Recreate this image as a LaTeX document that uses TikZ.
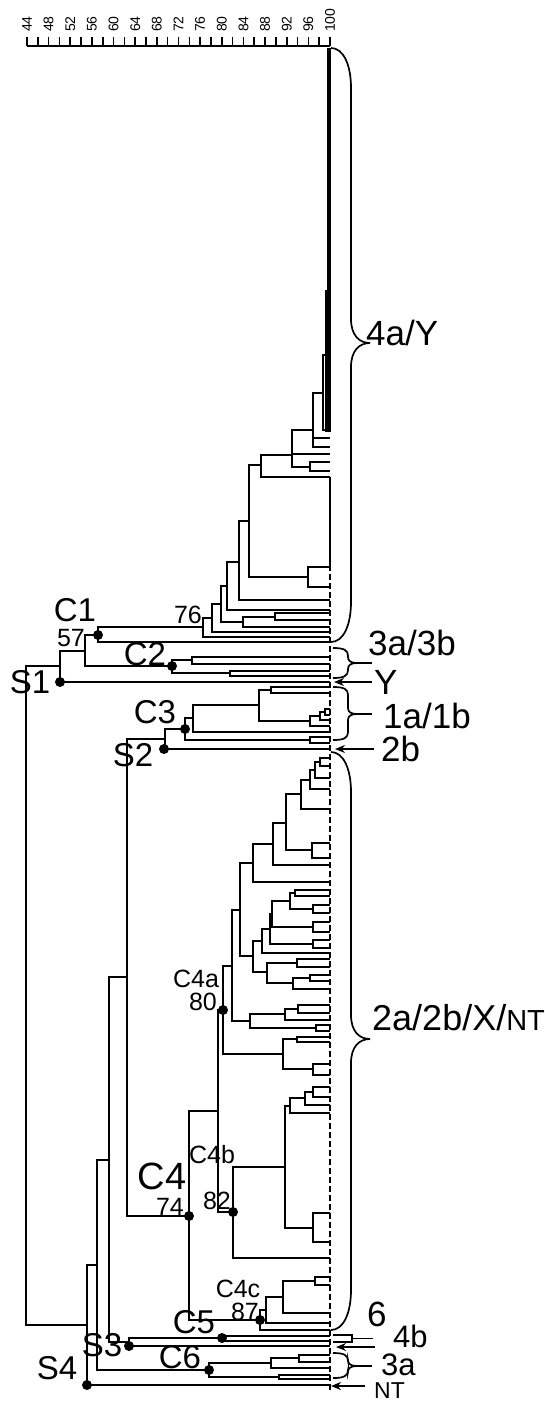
\documentclass[tikz,border=0pt]{standalone}
\usepackage{fontspec}
\setmainfont{Liberation Sans}
\usetikzlibrary{arrows.meta}
\tikzset{
  dl/.style  ={line width=1.9pt},
  thn/.style ={line width=1.2pt},
  idl/.style ={line width=1.9pt, dash pattern=on 6pt off 3pt},
  hub/.style ={circle, fill=black, inner sep=0pt, minimum size=10pt},
  blbl/.style={font=\fontsize{33}{33}\selectfont, inner sep=0pt},
  clbl/.style={font=\fontsize{38}{38}\selectfont, inner sep=0pt},
  slbl/.style={font=\fontsize{25}{25}\selectfont, inner sep=0pt},
  rlbl/.style={font=\fontsize{35}{35}\selectfont, inner sep=0pt, anchor=west},
  tck/.style ={font=\fontsize{14}{14}\selectfont, rotate=90, anchor=west, inner sep=0pt},
  arr/.style ={-{Stealth[length=10pt,width=8pt]}, line width=1.6pt},
  brc/.style ={line width=1.7pt},
}
\newcommand{\clade}[6][dl]{\draw[#1] (#4,#3) -| (#2,#5) -- (#6,#5);}
\newcommand{\bigbrc}[3]{\draw[brc] (331,#1) .. controls (343,#1) and (351,{#1+16}) .. (351,{#1+40})
  -- (351,{#2-24}) .. controls (351,{#2-8}) and (359,#2) .. (370,#2)
  .. controls (359,#2) and (351,{#2+8}) .. (351,{#2+24})
  -- (351,{#3-40}) .. controls (351,{#3-16}) and (343,#3) .. (331,#3);}
\newcommand{\smbrc}[3]{\draw[brc] (333,#1) .. controls (344,#1) and (348,{#1+2}) .. (348,{#1+8})
  -- (348,{#2-6}) .. controls (348,{#2-2}) and (351,#2) .. (357,#2)
  .. controls (351,#2) and (348,{#2+2}) .. (348,{#2+6})
  -- (348,{#3-8}) .. controls (348,{#3-2}) and (344,#3) .. (333,#3);
  \draw[brc] (357,#2) -- (372,#2);}

\begin{document}
\begin{tikzpicture}[x=1pt,y=-1pt]
  \useasboundingbox (0,0) rectangle (545,1403);
  \draw[line width=2.2pt] (27,46) -- (330,46);
  \foreach \i in {0,...,28} \draw[line width=1.6pt] ({27+\i*10.821},46) -- ++(0,-9);
  \foreach \v [count=\i from 0] in {44,48,...,100} \node[tck] at ({27+\i*21.643},32) {\v};
  \fill (326.5,48) rectangle (331,290);
  \fill (325,290) rectangle (331,432);
  \draw[line width=2.8pt] (330,477) -- (330,565);
  \draw[idl] (330,565) -- (330,1392);
  \clade{323}{355}{327}{430}{330}
  \clade{313}{393}{323}{447}{330}
  \draw[dl] (313,438) -- (330,438);
  \clade{292}{430}{313}{467}{310}
  \draw[dl] (292,454) -- (330,454);
  \clade{310}{462}{330}{471}{330}
  \clade{261}{455}{292}{477}{330}
  \clade{308}{567}{330}{587}{330}
  \clade{249}{465}{261}{577}{308}
  \clade{239}{521}{249}{600}{330}
  \clade{227}{562}{239}{610}{330}
  \clade{275}{613}{330}{620}{330}
  \clade{243}{617}{275}{627}{330}
  \clade{221}{586}{227}{622}{243}
  \clade{212}{604}{221}{632}{330}
  \clade{203}{618}{212}{637}{330}
  \clade{98}{627}{203}{642}{330}
  \clade{192}{657}{330}{664}{330}
  \clade{230}{671}{330}{676}{330}
  \clade{172}{660}{192}{673}{230}
  \clade[thn]{85}{635}{98}{666}{172}
  \clade[thn]{60}{651}{85}{682}{330}
  \clade[thn]{26}{666}{60}{1325}{87}
  \clade{271}{687}{330}{693}{330}
  \clade{325}{709}{330}{715}{330}
  \clade{320}{712}{325}{720}{330}
  \clade{310}{716}{320}{726}{330}
  \clade{259}{690}{271}{721}{310}
  \clade{193}{705}{259}{732}{330}
  \clade{310}{737}{330}{743}{330}
  \clade{185}{718}{193}{740}{310}
  \clade[thn]{165}{729}{185}{749}{330}
  \clade[thn]{127}{739}{165}{1216}{189}
  \clade[thn]{109}{977}{127}{1342}{129}
  \clade[thn]{129}{1338}{222}{1346}{330}
  \clade{222}{1336}{330}{1341}{330}
  \clade[thn]{97}{1160}{109}{1370}{209}
  \clade[thn]{87}{1265}{97}{1385}{330}
  \clade{299}{1355}{330}{1362}{330}
  \clade{271}{1358}{299}{1368}{330}
  \clade{279}{1375}{330}{1379}{330}
  \clade{209}{1363}{271}{1377}{279}
  \clade{320}{758}{330}{766}{330}
  \clade{315}{762}{320}{778}{330}
  \clade{310}{770}{315}{789}{330}
  \clade{301}{780}{310}{809}{330}
  \clade{312}{843}{330}{858}{330}
  \clade{286}{794}{301}{850}{312}
  \clade{273}{823}{286}{865}{330}
  \clade{253}{844}{273}{882}{330}
  \clade{295}{890}{330}{896}{330}
  \clade{313}{905}{330}{913}{330}
  \clade{290}{893}{295}{909}{313}
  \clade{313}{922}{330}{932}{330}
  \clade{272}{901}{290}{927}{313}
  \clade{313}{940}{330}{948}{330}
  \clade{270}{914}{272}{944}{313}
  \clade{262}{929}{270}{953}{330}
  \clade{297}{959}{330}{967}{330}
  \clade{310}{975}{330}{981}{330}
  \clade{293}{978}{310}{989}{330}
  \clade{267}{963}{297}{983}{293}
  \clade{253}{941}{262}{972}{267}
  \clade{240}{863}{253}{956}{253}
  \clade{298}{1005}{330}{1013}{330}
  \clade{285}{1009}{298}{1020}{330}
  \clade{316}{1025}{330}{1031}{330}
  \clade{250}{1014}{285}{1028}{316}
  \clade{232}{910}{240}{1021}{250}
  \clade{297}{1037}{330}{1042}{330}
  \clade{313}{1064}{330}{1075}{330}
  \clade{283}{1039}{297}{1069}{313}
  \clade{223}{966}{232}{1054}{283}
  \clade{313}{1087}{330}{1097}{330}
  \clade{305}{1092}{313}{1105}{330}
  \clade{290}{1098}{305}{1113}{330}
  \clade{313}{1213}{330}{1242}{330}
  \clade{285}{1106}{290}{1228}{313}
  \clade{233}{1167}{285}{1258}{330}
  \clade{218}{1010}{223}{1212}{233}
  \clade{315}{1277}{330}{1285}{330}
  \clade{283}{1281}{315}{1313}{330}
  \clade{266}{1297}{283}{1323}{330}
  \clade{260}{1310}{266}{1330}{330}
  \clade{189}{1111}{218}{1320}{260}
  \node[hub] (dC1) at (98,635) {};
  \node[hub] (dC2) at (172,666) {};
  \node[hub] (dS1) at (60,682) {};
  \node[hub] (dC3) at (185,729) {};
  \node[hub] (dS2) at (164,749) {};
  \node[hub] (dC4a) at (223,1010) {};
  \node[hub] (dC4) at (189,1216) {};
  \node[hub] (dC4b) at (233,1212) {};
  \node[hub] (dC4c) at (260,1320) {};
  \node[hub] (dC5) at (222,1338) {};
  \node[hub] (dS3) at (129,1346) {};
  \node[hub] (dC6) at (209,1370) {};
  \node[hub] (dS4) at (87,1385) {};
  \node[blbl] (lC1) at (75,610) {C1};
  \node[slbl] (l57) at (71,638) {57};
  \node[slbl] (l76) at (188,615) {76};
  \node[blbl] (lC2) at (145,654) {C2};
  \node[blbl] (lS1) at (30,682) {S1};
  \node[blbl] (lC3) at (155,712) {C3};
  \node[blbl] (lS2) at (133,755) {S2};
  \node[slbl] (lC4a) at (196,979) {C4a};
  \node[slbl] (l80) at (203,1002) {80};
  \node[clbl] (lC4) at (162,1176) {C4};
  \node[slbl] (l74) at (170,1207) {74};
  \node[slbl] (lC4b) at (212,1155) {C4b};
  \node[slbl] (l82) at (217,1201) {82};
  \node[slbl] (lC4c) at (238,1289) {C4c};
  \node[slbl] (l87) at (245,1312) {87};
  \node[blbl] (lC5) at (194,1322) {C5};
  \node[blbl] (lS3) at (102,1345) {S3};
  \node[blbl] (lC6) at (180,1357) {C6};
  \node[blbl] (lS4) at (57,1368) {S4};
  \bigbrc{48}{343}{642}
  \bigbrc{752}{1039}{1330}
  \smbrc{648}{663}{678}
  \smbrc{687}{714}{740}
  \smbrc{1353}{1366}{1378}
  \draw[brc] (333,1335) -- (352,1335) -- (352,1342) -- (333,1342);
  \draw[brc] (352,1338.5) -- (373,1338.5);
  \node[rlbl] (l4aY) at (366,333) {4a/Y};
  \node[rlbl] (l3a3b) at (368,643) {3a/3b};
  \node[rlbl] (lY) at (374,682) {Y};
  \node[rlbl] (l1a1b) at (383,716) {1a/1b};
  \node[rlbl] (l2b) at (381,749) {2b};
  \node[rlbl, font=\fontsize{36}{36}\selectfont] (l2a) at (372,1018) {2a/2b/X/{\fontsize{29}{29}\selectfont NT}};
  \node[rlbl] (l6) at (367,1314) {6};
  \node[rlbl, font=\fontsize{31}{31}\selectfont] (l4b) at (393,1336) {4b};
  \node[rlbl, font=\fontsize{31}{31}\selectfont] (l3a) at (381,1365) {3a};
  \node[rlbl, font=\fontsize{23}{23}\selectfont] (lNT) at (374,1391) {NT};
  \coordinate (tY) at (334,682);
  \coordinate (t2b) at (335,749);
  \coordinate (t4b) at (336,1347);
  \coordinate (tNT) at (331,1386);
  \draw[arr] ([xshift=-2pt]lY.west) -- (tY);
  \draw[arr] ([xshift=-7pt]l2b.west) -- (t2b);
  \draw[arr] ([xshift=-18pt,yshift=-11pt]l4b.west) -- (t4b);
  \draw[arr] ([xshift=-9pt,yshift=5pt]lNT.west) -- (tNT);
\end{tikzpicture}
\end{document}
